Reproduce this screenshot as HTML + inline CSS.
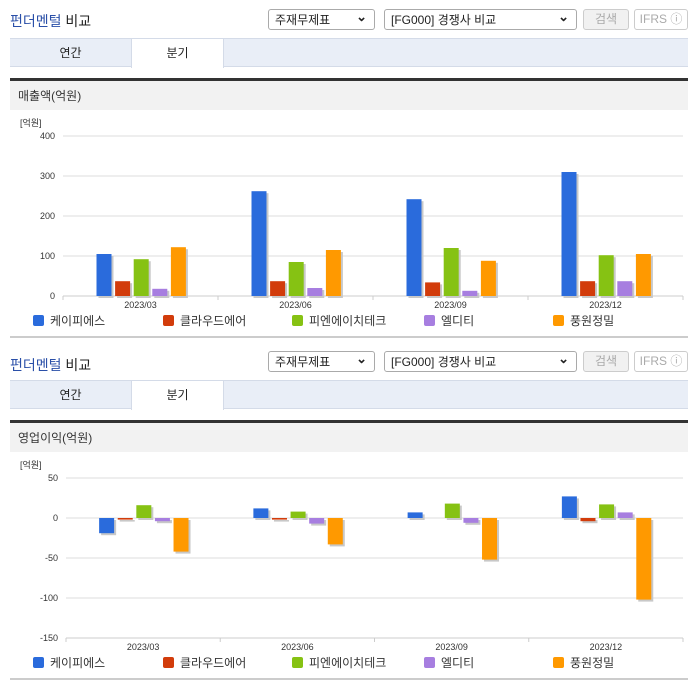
<!DOCTYPE html>
<html><head><meta charset="utf-8">
<style>
body{margin:0;width:696px;height:684px;background:#fff;font-family:"Liberation Sans","Noto Sans CJK KR",sans-serif;position:relative;overflow:hidden}
.abs{position:absolute}
.title{font-size:14px;color:#222}
.title b{font-weight:normal;color:#2a4fa8}
.sel{border:1px solid #aaa;border-radius:3px;height:21px;font-size:12px;color:#222;line-height:21px;padding-left:6px;box-sizing:border-box;background:#fff}
.sel:after{content:"⌄";position:absolute;right:7px;top:-4px;font-size:13px;font-weight:bold}
.btn{border:1px solid #ccc;border-radius:3px;height:21px;font-size:12px;color:#aaa;line-height:19px;text-align:center;box-sizing:border-box;background:#f1f1f1}
.tabs{left:10px;width:678px;height:29px;background:#e9eef7;border-top:1px solid #d4dbe8;border-bottom:1px solid #d4dbe8;box-sizing:border-box}
.tab{top:0;height:28px;font-size:12px;line-height:28px;text-align:center;color:#222}
.hdr{left:10px;width:678px;height:32px;background:#f2f2f2;border-top:3px solid #333;box-sizing:border-box;font-size:12px;color:#333;line-height:30px;padding-left:8px}
.bot{left:10px;width:678px;height:2px;background:#ccc}
svg text{font-family:"Liberation Sans","Noto Sans CJK KR",sans-serif}
</style></head><body>
<div class="abs title" style="left:10px;top:11px"><b>펀더멘털</b> 비교</div>
<div class="abs sel" style="left:268px;top:9px;width:107px">주재무제표</div>
<div class="abs sel" style="left:384px;top:9px;width:193px">[FG000] 경쟁사 비교</div>
<div class="abs btn" style="left:583px;top:9px;width:46px">검색</div>
<div class="abs btn" style="left:634px;top:9px;width:54px;background:#fff">IFRS ⓘ</div>
<div class="abs tabs" style="top:38px">
<div class="abs tab" style="left:0;width:121px">연간</div>
<div class="abs tab" style="left:121px;width:91px;background:#fff;border-left:1px solid #d4dbe8;border-right:1px solid #d4dbe8;height:29px">분기</div>
</div>
<div class="abs hdr" style="top:78px">매출액(억원)</div>
<svg class="abs" id="c1" style="left:0;top:110px" width="696" height="226"></svg>
<div class="abs bot" style="top:336px"></div>

<div class="abs title" style="left:10px;top:355px"><b>펀더멘털</b> 비교</div>
<div class="abs sel" style="left:268px;top:351px;width:107px">주재무제표</div>
<div class="abs sel" style="left:384px;top:351px;width:193px">[FG000] 경쟁사 비교</div>
<div class="abs btn" style="left:583px;top:351px;width:46px">검색</div>
<div class="abs btn" style="left:634px;top:351px;width:54px;background:#fff">IFRS ⓘ</div>
<div class="abs tabs" style="top:380px">
<div class="abs tab" style="left:0;width:121px">연간</div>
<div class="abs tab" style="left:121px;width:91px;background:#fff;border-left:1px solid #d4dbe8;border-right:1px solid #d4dbe8;height:29px">분기</div>
</div>
<div class="abs hdr" style="top:420px">영업이익(억원)</div>
<svg class="abs" id="c2" style="left:0;top:452px" width="696" height="226"></svg>
<div class="abs bot" style="top:678px"></div>

<script>
const categories=["2023/03","2023/06","2023/09","2023/12"];
const seriesNames=["케이피에스","클라우드에어","피엔에이치테크","엘디티","풍원정밀"];
const colors=["#2a6bdc","#d23c0b","#86c213","#a77ee0","#ff9900"];
const revKps=[105,262,242,310];
const revCloud=[37,37,34,37];
const revPnh=[92,85,120,102];
const revLdt=[18,20,13,37];
const revPw=[122,115,88,105];
const revTicks=[0,100,200,300,400];
const opKps=[-19,12,7,27];
const opCloud=[-2,-2,0,-4];
const opPnh=[16,8,18,17];
const opLdt=[-4,-7,-6,7];
const opPw=[-42,-33,-52,-102];
const opTicks=[-150,-100,-50,0,50];
const NS="http://www.w3.org/2000/svg";
function mk(svg,tag,a){const e=document.createElementNS(NS,tag);for(const k in a)e.setAttribute(k,a[k]);svg.appendChild(e);return e;}
function draw(id,series,ticks,left,ytop,ybot){
  const svg=document.getElementById(id);
  const right=683,mn=ticks[0],mx=ticks[ticks.length-1];
  const y=v=>ybot-(v-mn)/(mx-mn)*(ybot-ytop);
  const cw=(right-left)/categories.length;
  const x=i=>left+cw*i;
  let t=mk(svg,'text',{x:20,y:ytop-10,'font-size':9,fill:'#333'});t.textContent='[억원]';
  
  ticks.forEach(v=>{
    const l=mk(svg,'line',{x1:left,x2:right,y1:y(v),y2:y(v),stroke:'#dcdcdc','stroke-width':1});
    
    const tx=mk(svg,'text',{x:left-8,y:y(v)+3,'font-size':9,fill:'#333','text-anchor':'end'});tx.textContent=v;
    
  });
  mk(svg,'line',{x1:left,x2:right,y1:ybot,y2:ybot,stroke:'#ccc'});
  for(let i=0;i<=categories.length;i++)mk(svg,'line',{x1:x(i),x2:x(i),y1:ybot,y2:ybot+4,stroke:'#ccc'});
  const z=y(Math.max(0,mn));
  categories.forEach((c,i)=>{
    const cx=x(i)+cw/2;
    const tx=mk(svg,'text',{x:cx,y:ybot+12,'font-size':9,fill:'#333','text-anchor':'middle'});tx.textContent=c;
    
    series.forEach((s,j)=>{
      const v=s[i];if(v===0)return;
      const bx=cx-44+j*18.6,top=Math.min(y(v),z),h=Math.abs(y(v)-z);
      mk(svg,'rect',{x:bx+2,y:top+2,width:15,height:h,fill:'#c8c8c8'});
      const r=mk(svg,'rect',{x:bx,y:top,width:15,height:h,fill:colors[j]});
      
    });
  });
  const lx=[33,163,292,424,553];
  seriesNames.forEach((n,j)=>{
    const r=mk(svg,'rect',{x:lx[j],y:ybot+19,width:11,height:11,rx:2,fill:colors[j]});
    
    const tx=mk(svg,'text',{x:lx[j]+17,y:ybot+29,'font-size':12,fill:'#333'});tx.textContent=n;
    
  });
}
draw('c1',[revKps,revCloud,revPnh,revLdt,revPw],revTicks,63,26,186);
draw('c2',[opKps,opCloud,opPnh,opLdt,opPw],opTicks,66,26,186);
</script>
</body></html>
